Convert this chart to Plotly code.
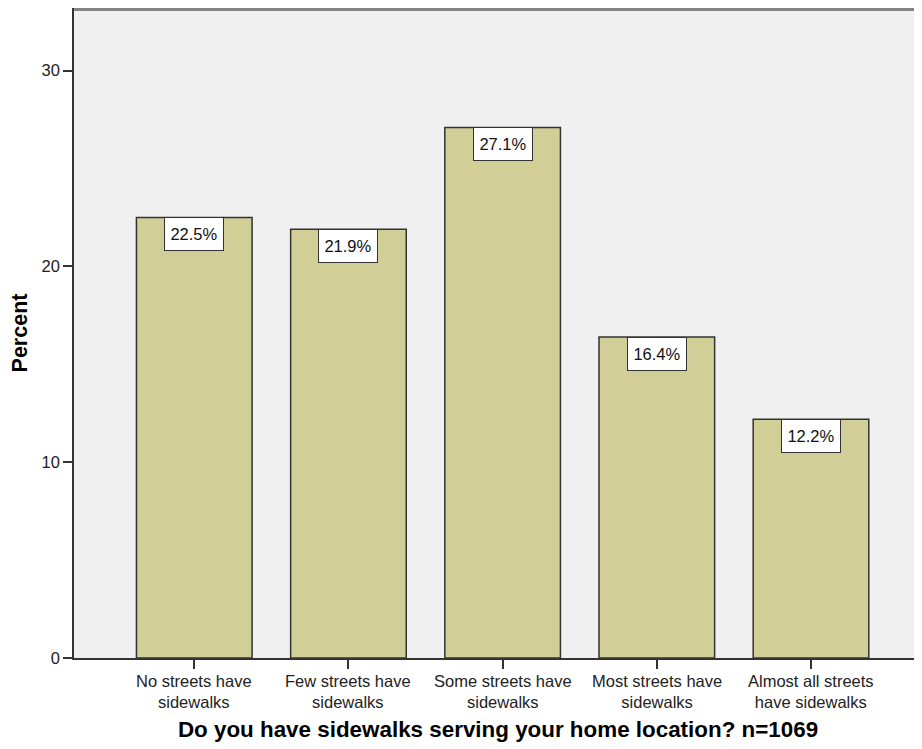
import plotly.graph_objects as go

categories = ["No streets have<br>sidewalks", "Few streets have<br>sidewalks",
              "Some streets have<br>sidewalks", "Most streets have<br>sidewalks",
              "Almost all streets<br>have sidewalks"]
percents = [22.5, 21.9, 27.1, 16.4, 12.2]
y_ticks = [0, 10, 20, 30]

xs = list(range(len(categories)))
font_fam = "Liberation Sans, Arial, sans-serif"

fig = go.Figure()
fig.add_trace(go.Bar(
    x=xs, y=percents, width=0.75,
    marker=dict(color="#D2CE98", line=dict(color="#333333", width=1.5)),
    hoverinfo="skip",
))

# value labels in white boxes at the top of each bar
for x, v in zip(xs, percents):
    fig.add_annotation(x=x, y=v, text=f"{v:.1f}%", showarrow=False,
                       yanchor="top", xanchor="center",
                       font=dict(family=font_fam, size=16.5, color="#111"),
                       bgcolor="white", bordercolor="#333", borderwidth=1,
                       borderpad=2, width=54, height=28)

# category labels under each tick
for x, cat in zip(xs, categories):
    fig.add_annotation(x=x, xref="x", y=0, yref="paper", text=cat,
                       showarrow=False, xanchor="center", yanchor="top",
                       yshift=-13, borderpad=0,
                       font=dict(family=font_fam, size=16.5, color="#222"))

fig.add_shape(type="line", xref="paper", yref="paper", x0=0, x1=1,
              y0=1 - 1.5 / 650, y1=1 - 1.5 / 650,
              line=dict(color="#858585", width=3))

fig.update_layout(
    width=914, height=741,
    margin=dict(l=66, r=0, t=0, b=91, pad=0),
    paper_bgcolor="white", plot_bgcolor="#F0F0F0",
    showlegend=False,
    font=dict(family=font_fam, color="#222"),
    xaxis=dict(range=[-0.78, 4.72], tickvals=xs, showticklabels=False,
               ticks="outside", ticklen=9, tickcolor="#333", tickwidth=1.5,
               showline=True, linecolor="#333", linewidth=1.5,
               showgrid=False, zeroline=False,
               title=dict(text="<b>Do you have sidewalks serving your home location? n=1069</b>",
                          font=dict(size=22.4, color="#000"), standoff=54)),
    yaxis=dict(range=[0, 33.2], tickvals=y_ticks,
               ticks="outside", ticklen=9, tickcolor="#333", tickwidth=1.5,
               showline=True, linecolor="#333", linewidth=1.5,
               showgrid=False, zeroline=False,
               tickfont=dict(size=16.5, color="#222"),
               title=dict(text="<b>Percent</b>", font=dict(size=21.5, color="#000"), standoff=14)),
)

fig.write_html("out.html")
